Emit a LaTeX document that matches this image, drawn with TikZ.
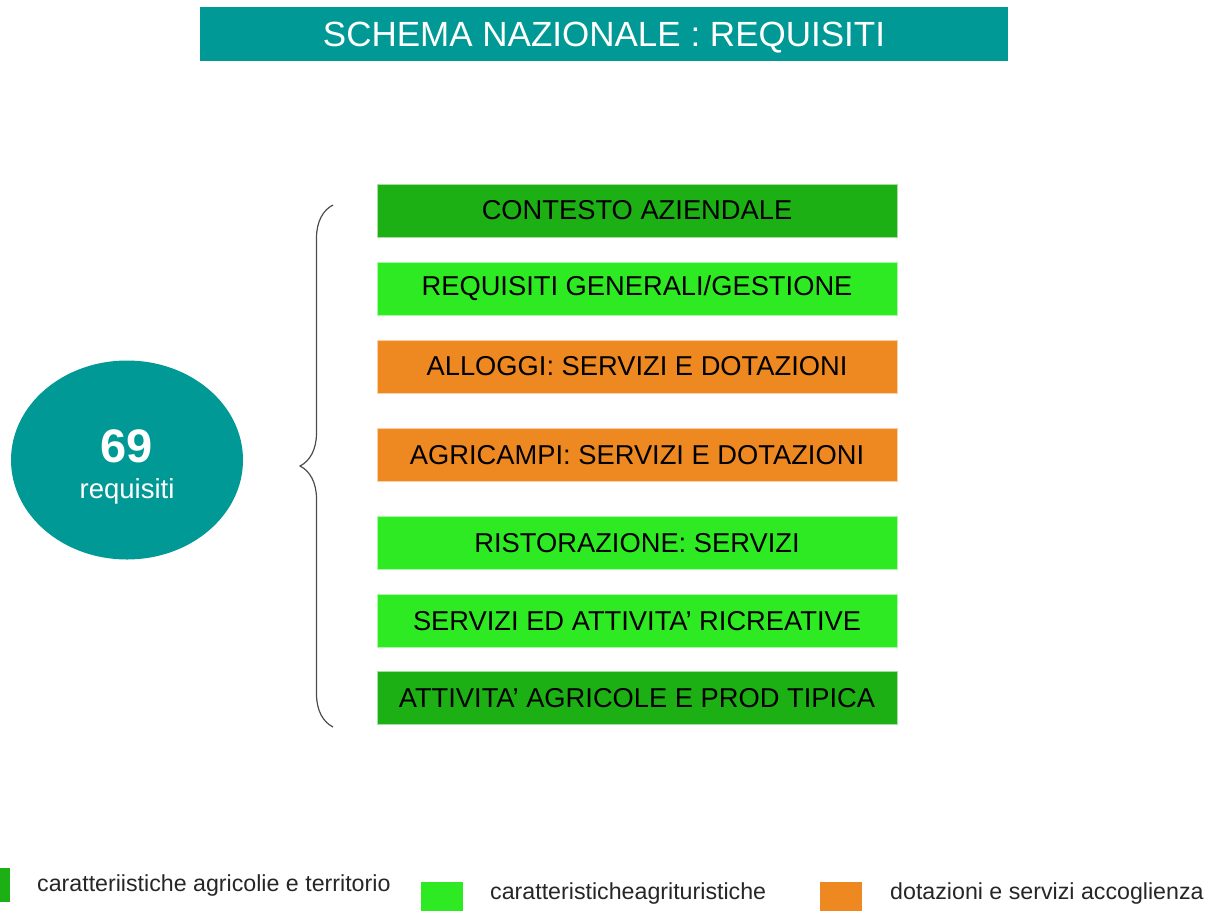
\documentclass[tikz,border=0pt]{standalone}
\usepackage{fontspec}
\setmainfont{Liberation Sans}
\usetikzlibrary{shapes.geometric,decorations.pathreplacing}

\definecolor{schemateal}{RGB}{0,153,150}
\definecolor{darkgreen}{RGB}{28,176,20}
\definecolor{lightgreen}{RGB}{46,234,35}
\definecolor{accorange}{RGB}{238,136,32}

\begin{document}
\begin{tikzpicture}[x=1pt, y=-1pt,
  box/.style={minimum width=520pt, minimum height=53pt, inner sep=0pt, draw=white!60!#1, fill=#1, font=\fontsize{27.3}{30}\selectfont},
  legendtext/.style={anchor=base west, inner sep=0pt, text=black!85, font=\fontsize{23.2}{26}\selectfont}]
\useasboundingbox (0, 0) rectangle (1212, 910);
\clip (0, 0) rectangle (1212, 910);

% title bar
\node [fill=schemateal, minimum width=808pt, minimum height=54pt, inner sep=0pt] (title) at (604, 34) {};
\node [anchor=base, inner sep=0pt, text=white, font=\fontsize{35}{40}\selectfont] (titletext) at (604, 46) {SCHEMA NAZIONALE : REQUISITI};

% total
\node [ellipse, fill=schemateal, minimum width=232pt, minimum height=199pt, inner sep=0pt] (tot) at (127, 460) {};
\node [anchor=base, inner sep=0pt, text=white, font=\fontsize{47}{50}\selectfont\bfseries] (num) at (127, 462) {69};
\node [anchor=base, inner sep=0pt, text=white, font=\fontsize{27.5}{30}\selectfont] (req) at (127, 498) {requisiti};

% brace
\coordinate (bracebot) at (333, 727);
\coordinate (bracetop) at (333, 205);
\draw [decorate, decoration={brace, amplitude=33pt}, line width=1.2pt, color=black!70] (bracebot) -- (bracetop);

% groups
\node [box=darkgreen] (contesto) at (637, 210.5) {CONTESTO AZIENDALE};
\node [box=lightgreen] (generali) at (637, 288.5) {REQUISITI GENERALI/GESTIONE};
\node [box=accorange] (alloggi) at (637, 366.5) {ALLOGGI: SERVIZI E DOTAZIONI};
\node [box=accorange] (agricampi) at (637, 455) {AGRICAMPI: SERVIZI E DOTAZIONI};
\node [box=lightgreen] (ristorazione) at (637, 543) {RISTORAZIONE: SERVIZI};
\node [box=lightgreen] (ricreative) at (637, 621) {SERVIZI ED ATTIVITA’ RICREATIVE};
\node [box=darkgreen] (agricole) at (637, 698) {ATTIVITA’ AGRICOLE E PROD TIPICA};

% legend
\node [fill=darkgreen, minimum width=42pt, minimum height=34pt, inner sep=0pt] (keydark) at (-11, 885) {};
\node [legendtext] (labdark) at (37, 891) {caratteriistiche agricolie e territorio};
\node [fill=lightgreen, minimum width=42pt, minimum height=34pt, inner sep=0pt] (keylight) at (442, 899) {};
\node [legendtext] (lablight) at (490, 899) {caratteristicheagrituristiche};
\node [fill=accorange, minimum width=42pt, minimum height=34pt, inner sep=0pt] (keyorange) at (841, 899) {};
\node [legendtext] (laborange) at (890, 899) {dotazioni e servizi accoglienza};
\end{tikzpicture}
\end{document}
